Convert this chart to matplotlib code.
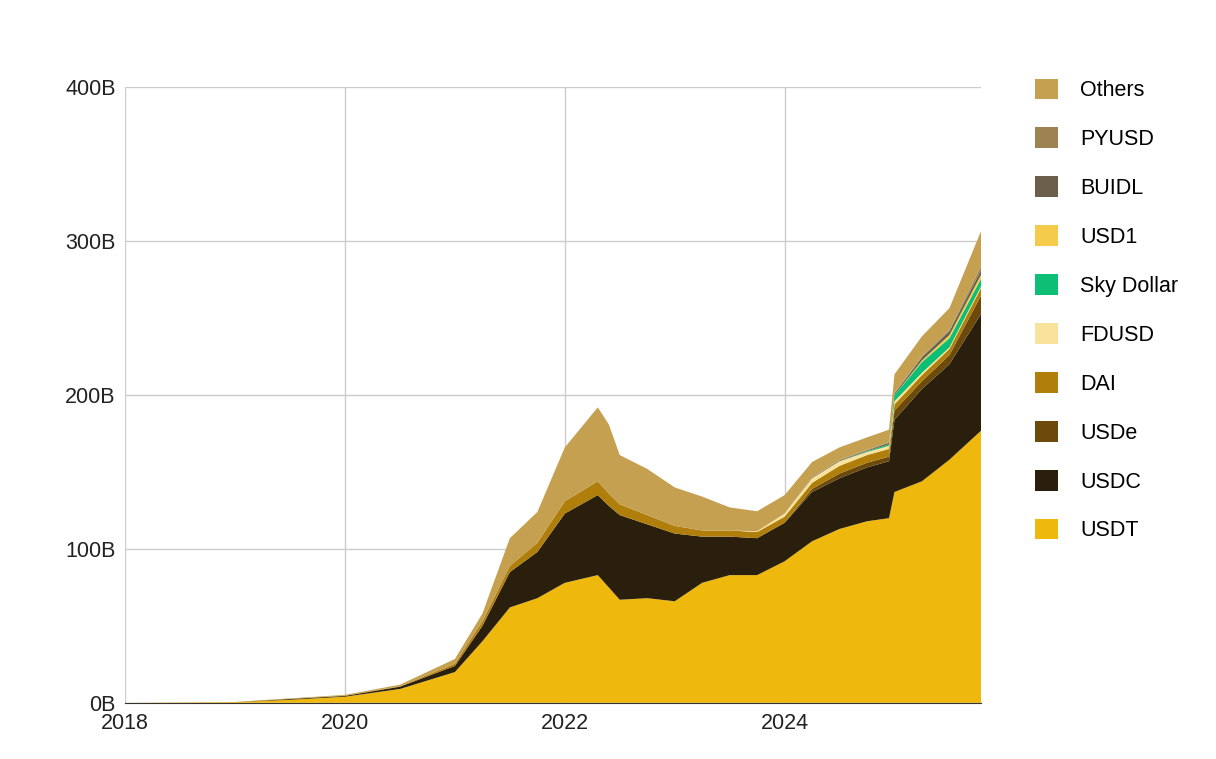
import matplotlib
matplotlib.use('Agg')
import matplotlib.pyplot as plt
from matplotlib.patches import Patch

plt.rcParams['font.family'] = ['Liberation Sans', 'DejaVu Sans']

dates = [2018.0, 2019.0, 2019.5, 2020.0, 2020.5, 2021.0, 2021.25, 2021.5, 2021.75, 2022.0,
         2022.3, 2022.4, 2022.5, 2022.75, 2023.0, 2023.25, 2023.5, 2023.75, 2024.0, 2024.25,
         2024.5, 2024.75, 2024.95, 2025.0, 2025.25, 2025.5, 2025.79]

usdt = [0, 0.5, 2, 4, 9, 20, 40, 62, 68, 78, 83, 75, 67, 68, 66, 78, 83, 83, 92, 105, 113, 118, 120, 137, 144, 158, 177]
usdc = [0, 0, 0.5, 0.5, 1.5, 4, 10, 23, 30, 45, 52, 53, 55, 48, 44, 30, 25, 24, 25, 32, 33, 35, 37, 47, 60, 62, 76]
usde = [0] * 19 + [2, 3, 3, 3, 6, 5, 6, 12]
dai = [0, 0, 0.1, 0.2, 0.3, 1.5, 3, 4, 6, 8, 9, 8, 7, 6, 5, 4, 4, 4, 4, 4, 5, 5, 5, 4, 4, 4, 5]
fdusd = [0] * 17 + [0.5, 2, 3, 3, 2, 2, 2, 1.5, 1, 1]
sky = [0] * 21 + [0.5, 1, 4, 7, 6, 5]
usd1 = [0] * 24 + [1, 2, 2.5]
buidl = [0] * 19 + [0.5, 0.5, 0.5, 1, 1, 2, 2.5, 3]
pyusd = [0] * 20 + [0.5, 0.5, 0.5, 0.5, 0.7, 1, 2.5]
others = [0, 0.1, 0.3, 0.5, 1, 3, 5, 18, 20, 35, 48, 45, 32, 30, 25, 22, 15, 13, 12, 10, 8, 8, 8, 12, 13, 14, 23]

names = ['USDT', 'USDC', 'USDe', 'DAI', 'FDUSD', 'Sky Dollar', 'USD1', 'BUIDL', 'PYUSD', 'Others']
series = [usdt, usdc, usde, dai, fdusd, sky, usd1, buidl, pyusd, others]
colors = ['#EFB80D', '#2A1F0C', '#6B4A0C', '#B07E0A', '#F9E29B', '#0DBF74',
          '#F5CB4C', '#6A5F4B', '#9C8351', '#C4A050']

fig = plt.figure(figsize=(12.16, 7.59), dpi=100)
ax = fig.add_axes([0.103, 0.074, 0.704, 0.811])
ax.stackplot(dates, series, colors=colors, linewidth=0)

ax.set_xlim(2018, 2025.79)
ax.set_ylim(0, 400)
ax.set_xticks([2018, 2020, 2022, 2024])
ax.set_xticklabels(['2018', '2020', '2022', '2024'])
ax.set_yticks([0, 100, 200, 300, 400])
ax.set_yticklabels(['0B', '100B', '200B', '300B', '400B'])
ax.grid(True, color='#cccccc', linewidth=1)
ax.set_axisbelow(True)
for s in ['top', 'right', 'left']:
    ax.spines[s].set_visible(False)
ax.spines['bottom'].set_color('#333333')
ax.tick_params(length=0, labelsize=15.5, colors='#222222', pad=7)

handles = [Patch(facecolor=c, edgecolor='none') for c in colors]
fig.legend(handles[::-1], names[::-1], loc='upper left', bbox_to_anchor=(0.835, 0.922),
           frameon=False, fontsize=15.5, handlelength=1.1, handleheight=1.1,
           labelspacing=1.22, handletextpad=1.0)

fig.savefig('out.png', dpi=100)
